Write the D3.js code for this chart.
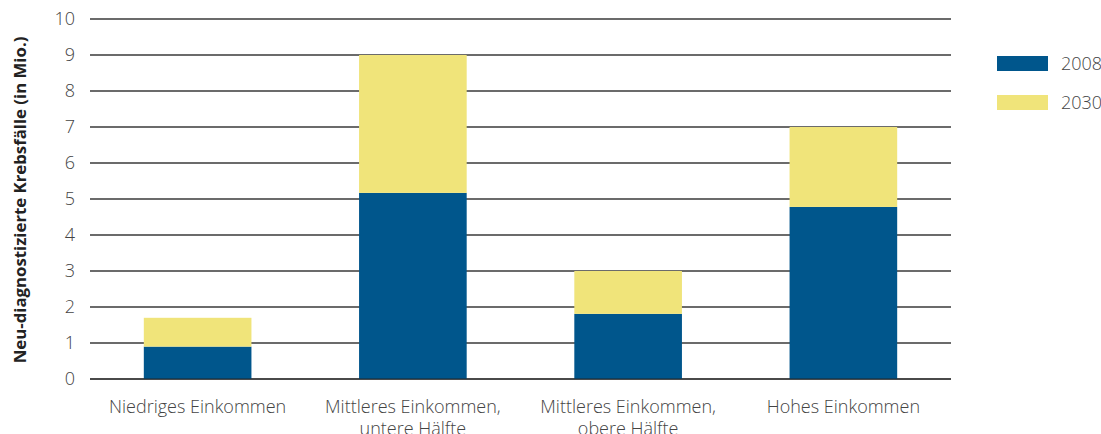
<!DOCTYPE html>
<html><head><meta charset="utf-8">
<script src="https://cdn.jsdelivr.net/npm/d3@7"></script>
<style>body{margin:0;background:#fff;} text{font-family:"Open Sans",sans-serif;}</style>
</head><body><svg id="c" width="1101" height="434"></svg>
<script>
const categories = [["Niedriges Einkommen"],["Mittleres Einkommen,","untere Hälfte"],["Mittleres Einkommen,","obere Hälfte"],["Hohes Einkommen"]];
const values2008 = [0.9, 5.17, 1.81, 4.78];
const totals2030 = [1.7, 9.0, 3.0, 7.0];
const yTicks = [0,1,2,3,4,5,6,7,8,9,10];
const seriesNames = ["2008","2030"];
const colors = ["#00568c","#f0e47a"];

const svg = d3.select("#c");
const x = d3.scaleBand().domain(d3.range(categories.length)).range([90,951]).paddingInner(0.5).paddingOuter(0.25);
const y = d3.scaleLinear().domain([0,10]).range([379,19]);

// grid
svg.append("g").selectAll("line").data(yTicks).join("line")
  .attr("x1",90).attr("x2",951).attr("y1",d=>y(d)).attr("y2",d=>y(d))
  .attr("stroke","#3a3a3a").attr("stroke-width",1.3);

// tick labels
svg.append("g").selectAll("text").data(yTicks).join("text")
  .attr("x",75).attr("y",d=>y(d)).attr("dy","0.36em").attr("text-anchor","end")
  .attr("font-size",18).attr("font-weight",300).attr("fill","#444").text(d=>d);

// bars
const g = svg.append("g");
g.selectAll("rect.b").data(values2008).join("rect").attr("class","b")
  .attr("x",(d,i)=>x(i)).attr("width",x.bandwidth())
  .attr("y",d=>y(d)).attr("height",d=>y(0)-y(d)).attr("fill",colors[0]);
g.selectAll("rect.t").data(totals2030).join("rect").attr("class","t")
  .attr("x",(d,i)=>x(i)).attr("width",x.bandwidth())
  .attr("y",d=>y(d)).attr("height",(d,i)=>y(values2008[i])-y(d)).attr("fill",colors[1]);

// baseline over bars
svg.append("line").attr("x1",90).attr("x2",951).attr("y1",y(0)).attr("y2",y(0))
  .attr("stroke","#222").attr("stroke-opacity",0.6).attr("stroke-width",1.5);

// x labels
const xl = svg.append("g").selectAll("text").data(categories).join("text")
  .attr("x",(d,i)=>x(i)+x.bandwidth()/2).attr("y",413).attr("text-anchor","middle")
  .attr("font-size",18).attr("font-weight",300).attr("fill","#444");
xl.selectAll("tspan").data(d=>d).join("tspan")
  .attr("x",function(){return this.parentNode.getAttribute("x");})
  .attr("dy",(d,i)=>i===0?0:22).text(d=>d);

// y title
svg.append("text").attr("transform","translate(25.5,200) rotate(-90)").attr("text-anchor","middle")
  .attr("font-size",16.8).attr("font-weight",700).attr("fill","#222")
  .text("Neu-diagnostizierte Krebsfälle (in Mio.)");

// legend
const lg = svg.append("g").selectAll("g").data(seriesNames).join("g")
  .attr("transform",(d,i)=>`translate(997,${56+i*39})`);
lg.append("rect").attr("width",51).attr("height",15).attr("fill",(d,i)=>colors[i]);
lg.append("text").attr("x",64).attr("y",7.5).attr("dy","0.36em").attr("font-size",18)
  .attr("font-weight",300).attr("fill","#444").text(d=>d);
</script></body></html>
